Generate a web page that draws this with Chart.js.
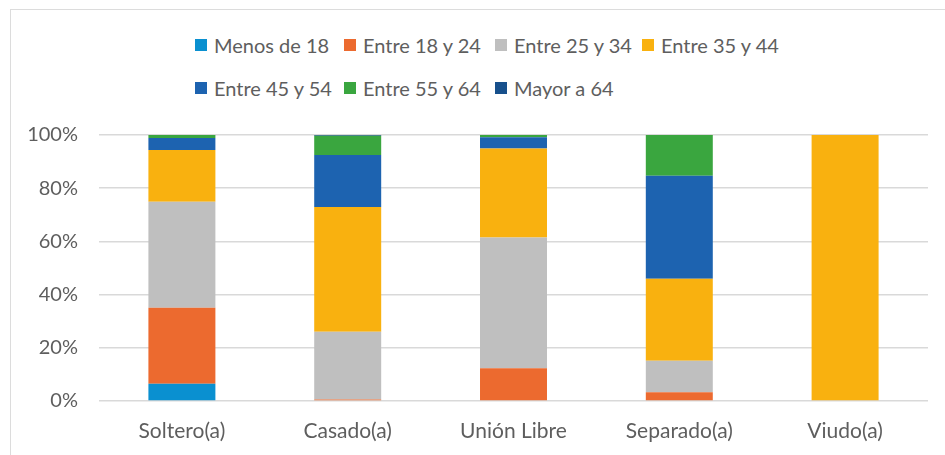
<!DOCTYPE html>
<html>
<head>
<meta charset="utf-8">
<script src="https://cdn.jsdelivr.net/npm/chart.js@4"></script>
<style>
  html, body { margin: 0; padding: 0; background: #fff; }
  #wrap { position: relative; width: 945px; height: 455px; overflow: hidden; font-family: Lato, "Open Sans", sans-serif; }
  #frame { position: absolute; left: 10px; top: 9px; width: 960px; height: 470px; border-left: 1.5px solid #dcdcdc; border-top: 1.5px solid #dcdcdc; box-sizing: border-box; pointer-events: none; }
  #legend { position: absolute; left: 195px; top: 32px; display: grid; grid-template-columns: 149px 151px 147px auto; row-gap: 17px; color: #5e5e5e; font-size: 20px; }
  .item { display: flex; align-items: center; height: 26px; white-space: nowrap; }
  .box { width: 12px; height: 12px; margin-right: 7px; flex: none; }
  canvas { position: absolute; left: 0; top: 0; }
</style>
</head>
<body>
<div id="wrap">
  <div id="frame"></div>
  <div id="legend"></div>
  <canvas id="c" width="945" height="455"></canvas>
</div>
<script>
const categories = ['Soltero(a)', 'Casado(a)', 'Unión Libre', 'Separado(a)', 'Viudo(a)'];
const seriesNames = ['Menos de 18', 'Entre 18 y 24', 'Entre 25 y 34', 'Entre 35 y 44', 'Entre 45 y 54', 'Entre 55 y 64', 'Mayor a 64'];
const menos18  = [6.5, 0, 0, 0, 0];
const e18a24   = [28.6, 0.6, 12.3, 3.3, 0];
const e25a34   = [39.8, 25.4, 49.2, 11.8, 0];
const e35a44   = [19.5, 46.9, 33.4, 30.9, 100];
const e45a54   = [4.5, 19.6, 4.3, 38.7, 0];
const e55a64   = [1.1, 7.2, 0.8, 15.3, 0];
const mayor64  = [0, 0.3, 0, 0, 0];
const yTicks = [0, 20, 40, 60, 80, 100];

const colors = ['#0A90D0', '#EC6A2F', '#BFBFBF', '#F9B10F', '#1D63B0', '#3AA63F', '#17508C'];
const values = [menos18, e18a24, e25a34, e35a44, e45a54, e55a64, mayor64];

const datasets = seriesNames.map((name, i) => ({
  label: name,
  data: values[i],
  backgroundColor: colors[i],
  borderWidth: 0,
  barPercentage: 0.404,
  categoryPercentage: 1.0
}));

// HTML legend
const leg = document.getElementById('legend');
seriesNames.forEach((name, i) => {
  const d = document.createElement('div');
  d.className = 'item';
  d.innerHTML = '<span class="box" style="background:' + colors[i] + '"></span><span>' + name + '</span>';
  leg.appendChild(d);
});

const yFont = { family: 'Lato, "Open Sans", sans-serif', size: 20 };
const xFont = { family: 'Lato, "Open Sans", sans-serif', size: 21 };

new Chart(document.getElementById('c'), {
  type: 'bar',
  data: { labels: categories, datasets },
  options: {
    responsive: false,
    animation: false,
    layout: { padding: { left: 0, right: 17, top: 135, bottom: 0 } },
    plugins: { legend: { display: false }, tooltip: { enabled: false } },
    scales: {
      x: {
        stacked: true,
        grid: { display: false, drawTicks: false },
        border: { display: false },
        ticks: { color: '#5e5e5e', font: xFont, padding: 18 },
        afterFit: s => { s.height = 54; }
      },
      y: {
        stacked: true,
        min: 0,
        max: 100,
        afterBuildTicks: s => { s.ticks = yTicks.map(v => ({ value: v })); },
        grid: { color: '#d9d9d9', lineWidth: 1.5, drawTicks: false },
        border: { display: false },
        ticks: { color: '#5e5e5e', font: yFont, padding: 21, callback: v => v + '%' },
        afterFit: s => { s.width = 99; }
      }
    }
  }
});
</script>
</body>
</html>
